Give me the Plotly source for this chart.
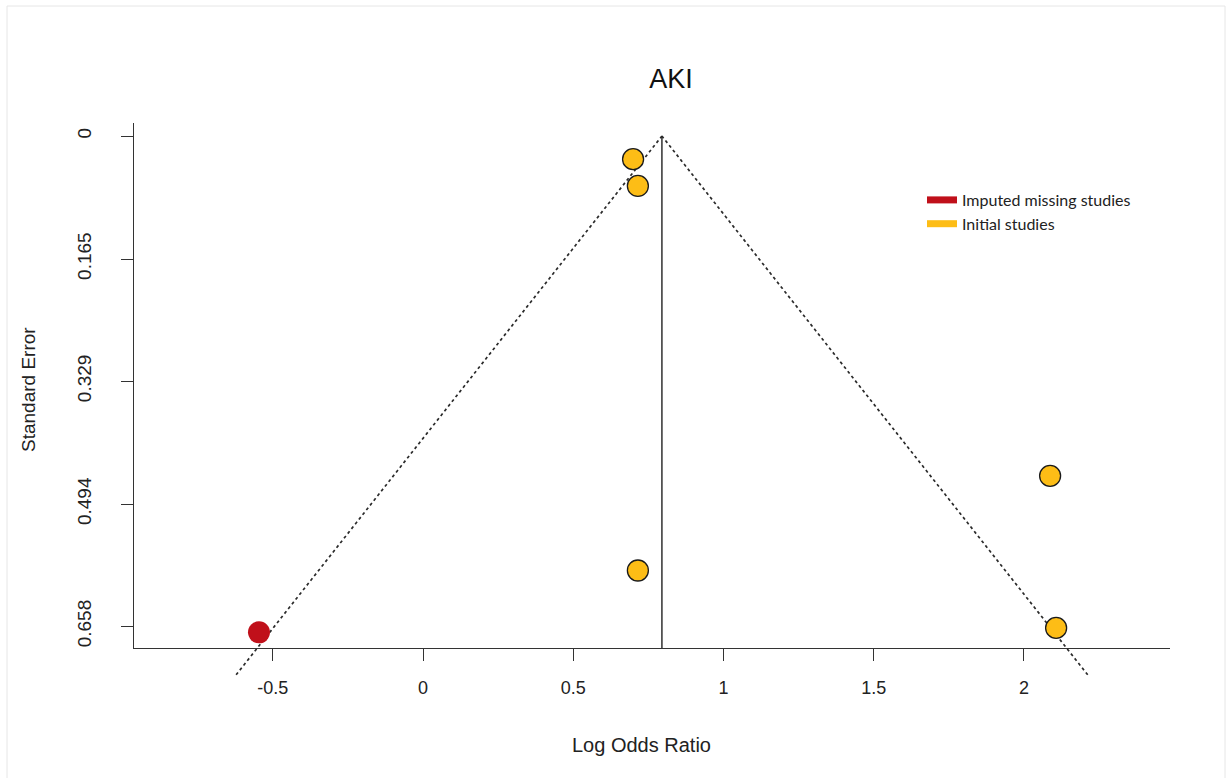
import plotly.graph_objects as go

# ---------------- data ----------------
imputed_lor = [-0.546]
imputed_se = [0.666]
initial_lor = [0.699, 0.715, 2.087, 0.715, 2.107]
initial_se = [0.031, 0.067, 0.456, 0.583, 0.660]
pooled_lor = 0.795
funnel_se = [0.723, 0.0]          # funnel lines drawn from apex (se=0) to se=0.723
z_crit = 1.96
x_ticks = [-0.5, 0, 0.5, 1, 1.5, 2]
x_tick_labels = ["-0.5", "0", "0.5", "1", "1.5", "2"]
y_ticks = [0, 0.165, 0.329, 0.494, 0.658]
y_tick_labels = ["0", "0.165", "0.329", "0.494", "0.658"]
series_names = ["Imputed missing studies", "Initial studies"]
series_colors = ["#C0101A", "#FDBD16"]
title_text = "AKI"
x_label = "Log Odds Ratio"
y_label = "Standard Error"

# ---------------- layout geometry ----------------
W, H = 1228, 778
L, R, T = 134, 1170, 123
AXIS_B = 648       # pixel row of the x-axis line
B = 700            # bottom of the extended (overlay) plotting area
x_range = [-0.962, 2.486]
y_top = -0.0175
y_axis_bottom = 0.687

scale = (AXIS_B - T) / (y_axis_bottom - y_top)
y2_bottom = y_top + (B - T) / scale
main_dom0 = (B - AXIS_B) / (B - T)


def px(xp):
    return (xp - L) / (R - L)


def py(yp):
    return (B - yp) / (B - T)


FONT = "Liberation Sans, Arial, sans-serif"
AX_COL = "#333333"

fig = go.Figure()

# vertical line at pooled estimate (main axes)
fig.add_trace(go.Scatter(
    x=[pooled_lor, pooled_lor], y=[0, y_axis_bottom], mode="lines",
    line=dict(color="#222222", width=1.4), showlegend=False, hoverinfo="skip",
    xaxis="x", yaxis="y"))

# funnel (pseudo confidence) lines on the extended overlay axes
left_x = [pooled_lor - z_crit * s for s in funnel_se]
right_x = [pooled_lor + z_crit * s for s in funnel_se]
for xs in (left_x, right_x):
    fig.add_trace(go.Scatter(
        x=xs, y=funnel_se, mode="lines",
        line=dict(color="#2a2a2a", width=1.7, dash="dot"),
        showlegend=False, hoverinfo="skip", xaxis="x2", yaxis="y2"))

# points
fig.add_trace(go.Scatter(
    x=initial_lor, y=initial_se, mode="markers",
    marker=dict(size=21, color=series_colors[1], line=dict(color="#1a1a1a", width=1.3)),
    showlegend=False, cliponaxis=False, xaxis="x2", yaxis="y2"))
fig.add_trace(go.Scatter(
    x=imputed_lor, y=imputed_se, mode="markers",
    marker=dict(size=22, color=series_colors[0], line=dict(width=0)),
    showlegend=False, cliponaxis=False, xaxis="x2", yaxis="y2"))

# legend entries
for name, col in zip(series_names, series_colors):
    fig.add_trace(go.Scatter(
        x=[None], y=[None], mode="lines", name=name,
        line=dict(color=col, width=7), xaxis="x2", yaxis="y2"))

fig.update_layout(
    width=W, height=H,
    margin=dict(l=L, r=W - R, t=T, b=H - B, pad=0),
    paper_bgcolor="white", plot_bgcolor="rgba(0,0,0,0)",
    font=dict(family=FONT, color="#222222"),
    title=dict(text=title_text, x=671 / W, y=1 - 79 / H, xref="container", yref="container",
               xanchor="center", yanchor="middle", font=dict(size=27, family=FONT, color="#111111")),
    xaxis=dict(domain=[0, 1], anchor="y", range=x_range, tickvals=x_ticks, ticktext=x_tick_labels,
               ticks="outside", ticklen=12, tickwidth=1.4, tickcolor=AX_COL,
               showline=True, linecolor=AX_COL, linewidth=1.4, showgrid=False, zeroline=False,
               tickfont=dict(size=18, family=FONT, color="#222222"), ticklabelstandoff=11),
    yaxis=dict(domain=[main_dom0, 1], anchor="x", range=[y_axis_bottom, y_top], autorange=False,
               tickvals=y_ticks, ticktext=y_tick_labels, tickangle=-90,
               ticks="outside", ticklen=12, tickwidth=1.4, tickcolor=AX_COL,
               showline=True, linecolor=AX_COL, linewidth=1.4, showgrid=False, zeroline=False,
               tickfont=dict(size=19, family=FONT, color="#222222"), ticklabelstandoff=22),
    xaxis2=dict(domain=[0, 1], anchor="y2", range=x_range, visible=False, showgrid=False, zeroline=False),
    yaxis2=dict(domain=[0, 1], anchor="x2", range=[y2_bottom, y_top], autorange=False,
                visible=False, showgrid=False, zeroline=False),
    legend=dict(x=px(922), y=py(183), xanchor="left", yanchor="top", bgcolor="rgba(0,0,0,0)",
                font=dict(family="Lato, Open Sans, sans-serif", size=16, color="#222222"),
                tracegroupgap=0, itemwidth=30),
    showlegend=True,
    annotations=[
        dict(text=x_label, x=px(641), y=py(745), xref="paper", yref="paper", showarrow=False,
             xanchor="center", yanchor="middle", font=dict(size=20, family=FONT, color="#222222")),
        dict(text=y_label, x=px(28), y=py(390), xref="paper", yref="paper", showarrow=False,
             xanchor="center", yanchor="middle", textangle=-90,
             font=dict(size=19, family=FONT, color="#222222")),
    ],
    shapes=[
        dict(type="rect", xref="paper", yref="paper", x0=px(7), x1=px(1225), y0=py(790), y1=py(6),
             line=dict(color="#e6e6e6", width=1), fillcolor="rgba(0,0,0,0)", layer="below"),
    ],
)

fig.write_html("out.html", config={"displayModeBar": False},
               post_script="document.body.style.margin='0';document.body.style.padding='0';")
